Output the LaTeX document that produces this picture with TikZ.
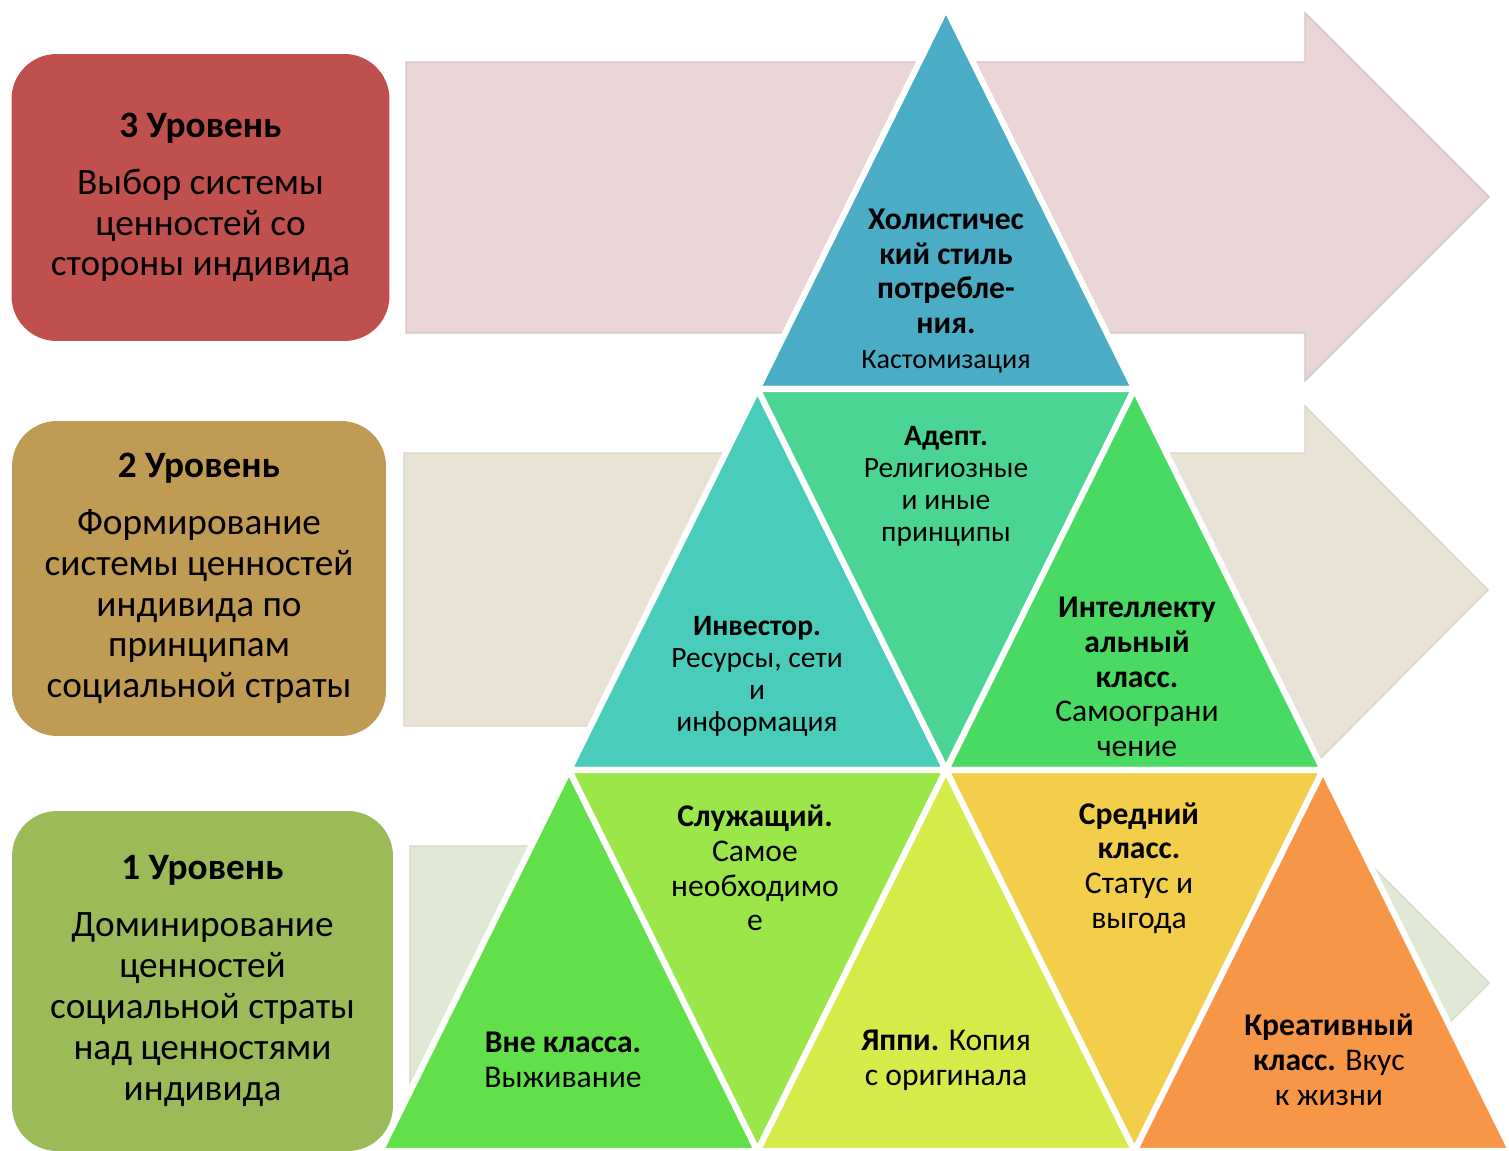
\documentclass[tikz,border=0pt]{standalone}
\usepackage{fontspec}
\setmainfont{Carlito}
\usepackage{xcolor}
\usepackage{tikz}

\definecolor{boxred}{HTML}{C0504D}
\definecolor{boxtan}{HTML}{BF9B53}
\definecolor{boxgreen}{HTML}{9BBB59}
\definecolor{arrpink}{HTML}{E9D5D5}
\definecolor{arrbeige}{HTML}{E8E3D5}
\definecolor{arrgreen}{HTML}{E1E8D5}
\definecolor{triblue}{HTML}{4BACC6}
\definecolor{triteal}{HTML}{49CDBA}
\definecolor{trisea}{HTML}{4AD593}
\definecolor{trigreen}{HTML}{48DA62}
\definecolor{trilime}{HTML}{62E049}
\definecolor{trileaf}{HTML}{9BE649}
\definecolor{triyellowgreen}{HTML}{D4EB49}
\definecolor{triyellow}{HTML}{F3CE4A}
\definecolor{triorange}{HTML}{F79646}

\tikzset{
  lvlbox/.style={rounded corners=0.9cm, align=center, inner sep=0pt,
    font=\fontsize{21.2}{23.3}\selectfont},
  bgarrow/.style={line width=0.8pt, line join=miter},
  tri/.style={draw=white, line width=3.5pt, line join=round},
  trilabel/.style={align=center, inner sep=0pt, font=\fontsize{18}{19.8}\selectfont},
  trismall/.style={trilabel, font=\fontsize{16.8}{18.2}\selectfont}
}

\begin{document}
\begin{tikzpicture}[x=0.02cm, y=-0.02cm]
	\useasboundingbox (0,0) rectangle (1509,1151);
	\clip (0,0) rectangle (1509,1151);

	% background arrows
	\filldraw[bgarrow, fill=arrpink, draw=arrpink!92!black] (406,62) -- (1305,62) -- (1305,13) -- (1489,197) -- (1305,381) -- (1305,333) -- (406,333) -- cycle;
	\filldraw[bgarrow, fill=arrbeige, draw=arrbeige!94!black] (404,453) -- (1305,453) -- (1305,406) -- (1488,590) -- (1305,774) -- (1305,726) -- (404,726) -- cycle;
	\filldraw[bgarrow, fill=arrgreen, draw=arrgreen!94!black] (410,846) -- (1305,846) -- (1305,799) -- (1489,983) -- (1305,1167) -- (1305,1120) -- (410,1120) -- cycle;

	% level boxes
	\node[lvlbox, fill=boxred, minimum width=7.56cm, minimum height=5.74cm] (lvl3) at (200.5,197.5)
		{\textbf{3 Уровень}\\[9pt] Выбор системы\\ ценностей со\\ стороны индивида};
	\node[lvlbox, fill=boxtan, minimum width=7.48cm, minimum height=6.3cm] (lvl2) at (199,578.5)
		{\textbf{2 Уровень}\\[9pt] Формирование\\ системы ценностей\\ индивида по\\ принципам\\ социальной страты};
	\node[lvlbox, fill=boxgreen, minimum width=7.62cm, minimum height=6.8cm] (lvl1) at (202.5,981)
		{\textbf{1 Уровень}\\[9pt] Доминирование\\ ценностей\\ социальной страты\\ над ценностями\\ индивида};

	% pyramid grid
	\coordinate (p0) at (946,8);
	\coordinate (p1a) at (757.5,389);
	\coordinate (p1b) at (1134.5,389);
	\coordinate (p2a) at (569,770);
	\coordinate (p2b) at (946,770);
	\coordinate (p2c) at (1323,770);
	\coordinate (p3a) at (380.5,1151);
	\coordinate (p3b) at (757.5,1151);
	\coordinate (p3c) at (1134.5,1151);
	\coordinate (p3d) at (1511.5,1151);

	\filldraw[tri, fill=triblue] (p0) -- (p1a) -- (p1b) -- cycle;
	\filldraw[tri, fill=triteal] (p1a) -- (p2a) -- (p2b) -- cycle;
	\filldraw[tri, fill=trisea] (p1a) -- (p1b) -- (p2b) -- cycle;
	\filldraw[tri, fill=trigreen] (p1b) -- (p2b) -- (p2c) -- cycle;
	\filldraw[tri, fill=trilime] (p2a) -- (p3a) -- (p3b) -- cycle;
	\filldraw[tri, fill=trileaf] (p2a) -- (p2b) -- (p3b) -- cycle;
	\filldraw[tri, fill=triyellowgreen] (p2b) -- (p3b) -- (p3c) -- cycle;
	\filldraw[tri, fill=triyellow] (p2b) -- (p2c) -- (p3c) -- cycle;
	\filldraw[tri, fill=triorange] (p2c) -- (p3c) -- (p3d) -- cycle;

	% labels
	\node[trilabel] (holist) at (946,291) {\textbf{Холистичес}\\\textbf{кий стиль}\\\textbf{потребле-}\\\textbf{ния.}\\{\fontsize{16}{19.8}\selectfont Кастомизация}};
	\node[trismall] (adept) at (946,486) {\textbf{Адепт.}\\Религиозные\\и иные\\принципы};
	\node[trismall] (investor) at (757,676) {\textbf{Инвестор.}\\Ресурсы, сети\\и\\информация};
	\node[trilabel] (intellect) at (1137,677) {\textbf{Интеллекту}\\\textbf{альный}\\\textbf{класс.}\\Самоограни\\чение};
	\node[trilabel] (servant) at (755,868) {\textbf{Служащий.}\\Самое\\необходимо\\е};
	\node[trilabel] (middle) at (1139,868) {\textbf{Средний}\\\textbf{класс.}\\Статус и\\выгода};
	\node[trilabel] (outside) at (563,1060) {\textbf{Вне класса.}\\Выживание};
	\node[trilabel] (yuppie) at (946,1060) {\textbf{Яппи.} Копия\\с оригинала};
	\node[trilabel] (creative) at (1329,1060) {\textbf{Креативный}\\\textbf{класс.} Вкус\\к жизни};
\end{tikzpicture}
\end{document}
